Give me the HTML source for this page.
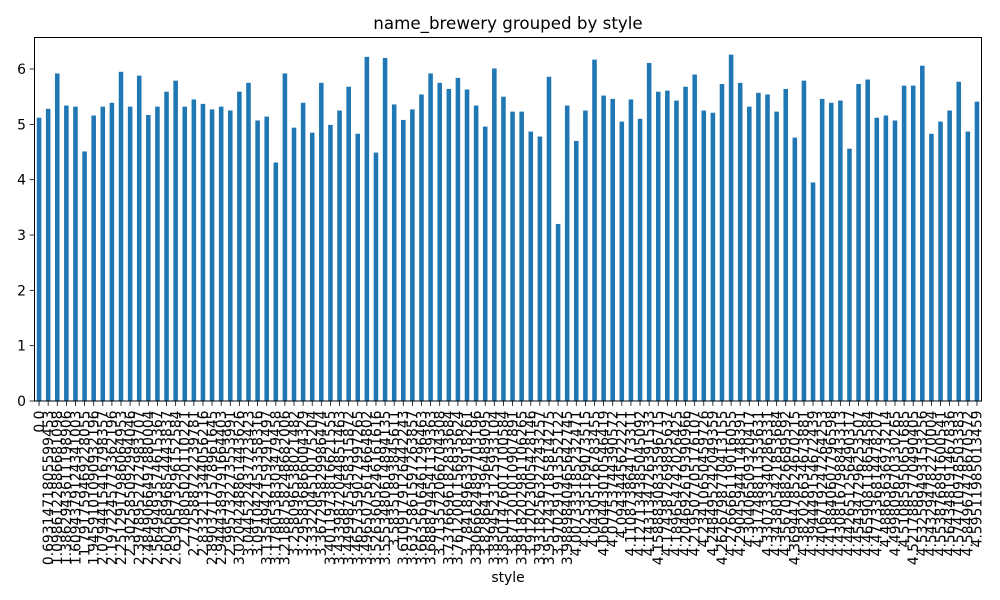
<!DOCTYPE html>
<html><head><meta charset="utf-8"><style>
html,body{margin:0;padding:0;background:#fff;}
svg{display:block;font-family:"DejaVu Sans","Liberation Sans",sans-serif;}
</style></head><body>
<svg id="chart" width="1000" height="600" viewBox="0 0 1000 600" xmlns="http://www.w3.org/2000/svg">
<rect x="0" y="0" width="1000" height="600" fill="#fff"/>
<text x="508" y="29" font-size="16.7" text-anchor="middle">name_brewery grouped by style</text>
<g id="bars"></g>
<g id="xticks"></g>
<g id="yticks"></g>
<rect x="34.5" y="37.5" width="947" height="363.5" fill="none" stroke="#000" stroke-width="1"/>
<text x="508" y="582" font-size="13.9" text-anchor="middle">style</text>
</svg>
<script>
const categories = ["0.0","0.6931471805599453","1.0986122886681098","1.3862943611198906","1.6094379124341003","1.791759469228055","1.9459101090932196","2.0794415416798357","2.1972245773362196","2.2512917986064953","2.302585092994046","2.3978952727983707","2.4849066497880004","2.5649493574615367","2.6026896854443837","2.6390573296152584","2.70805020110221","2.772588722239781","2.833213344056216","2.8903717578961645","2.9444389791664403","2.995732273553991","3.0204248861443626","3.044522437723423","3.091042453358316","3.1354942159291497","3.1780538303479458","3.2188758248682006","3.258096538021482","3.295836866004329","3.332204510175204","3.367295829986474","3.4011973816621555","3.4339872044851463","3.4499875458315872","3.4657359027997265","3.4965075614664802","3.5263605246161616","3.5553480614894135","3.58351893845611","3.6109179126442243","3.6375861597263857","3.6635616461296463","3.6888794541139363","3.713572066704308","3.7376696182833684","3.7612001156935624","3.784189633918261","3.8066624897703196","3.828641396489095","3.8394523125933104","3.8501476017100584","3.871201010907891","3.8918202981106265","3.912023005428146","3.9318256327243257","3.9512437185814275","3.970291913552122","3.9889840465642745","4.007333185232471","4.02535169073515","4.04305126783455","4.060443010546419","4.07753744390572","4.0943445622221","4.110873864173311","4.127134385045092","4.143134726391533","4.1588830833596715","4.174387269895637","4.189654742026425","4.204692619390966","4.219507705176107","4.23410650459726","4.248495242049359","4.2626798770413155","4.276666119016055","4.290459441148391","4.30406509320417","4.31748811353631","4.330733340286331","4.343805421853684","4.356708826689592","4.3694478524670215","4.382026634673881","4.394449154672439","4.406719247264253","4.418840607796598","4.430816798843313","4.442651256490317","4.454347296253507","4.465908118654584","4.477336814478207","4.48863636973214","4.499809670330265","4.51085950651685","4.5217885770490405","4.532599493153256","4.543294782270004","4.553876891600541","4.564348191467836","4.574710978503383","4.584967478670572","4.59511985013459"];
const values = [5.12,5.28,5.92,5.34,5.32,4.51,5.16,5.32,5.39,5.95,5.32,5.88,5.17,5.32,5.59,5.79,5.32,5.45,5.37,5.27,5.32,5.25,5.59,5.75,5.07,5.14,4.31,5.92,4.94,5.39,4.85,5.75,4.99,5.25,5.68,4.83,6.22,4.49,6.20,5.36,5.08,5.27,5.54,5.92,5.75,5.64,5.84,5.63,5.34,4.96,6.01,5.50,5.23,5.23,4.87,4.78,5.86,3.20,5.34,4.70,5.25,6.17,5.52,5.46,5.05,5.45,5.10,6.11,5.59,5.61,5.43,5.68,5.90,5.25,5.21,5.73,6.26,5.75,5.32,5.57,5.54,5.23,5.64,4.76,5.79,3.95,5.46,5.39,5.43,4.56,5.73,5.81,5.12,5.16,5.07,5.70,5.70,6.06,4.83,5.05,5.25,5.77,4.87,5.41];
const yTicks = [0,1,2,3,4,5,6];

const NS = "http://www.w3.org/2000/svg";
const L = 34.5, R = 981.5, T = 37.5, B = 401;
const n = categories.length;
const step = (R - L) / n;
const xs = i => L + (i + 0.5) * step;
const ys = v => B - v * 55.33;

const gb = document.getElementById('bars');
values.forEach((v, i) => {
  const r = document.createElementNS(NS, 'rect');
  
  
  r.setAttribute('x', xs(i) - step * 0.25);
  r.setAttribute('width', step * 0.5);
  r.setAttribute('y', ys(v));
  r.setAttribute('height', B - ys(v));
  r.setAttribute('fill', '#1f77b4');
  gb.appendChild(r);
});

const gx = document.getElementById('xticks');
categories.forEach((c, i) => {
  const x = xs(i);
  const t = document.createElementNS(NS, 'line');
  
  
  t.setAttribute('x1', x); t.setAttribute('x2', x);
  t.setAttribute('y1', B); t.setAttribute('y2', B + 4.9);
  t.setAttribute('stroke', '#000'); t.setAttribute('stroke-width', '0.8');
  gx.appendChild(t);
  const tx = document.createElementNS(NS, 'text');
  
  
  tx.setAttribute('transform', 'translate(' + (x + 4.8) + ',' + (B + 9.5) + ') rotate(-90)');
  tx.setAttribute('text-anchor', 'end');
  tx.setAttribute('font-size', '13.9');
  tx.textContent = c;
  gx.appendChild(tx);
});

const gy = document.getElementById('yticks');
yTicks.forEach(v => {
  const y = ys(v);
  const t = document.createElementNS(NS, 'line');
  
  
  t.setAttribute('x1', L - 4.9); t.setAttribute('x2', L);
  t.setAttribute('y1', y); t.setAttribute('y2', y);
  t.setAttribute('stroke', '#000'); t.setAttribute('stroke-width', '0.8');
  gy.appendChild(t);
  const tx = document.createElementNS(NS, 'text');
  
  
  tx.setAttribute('x', L - 8.5);
  tx.setAttribute('y', y + 5);
  tx.setAttribute('text-anchor', 'end');
  tx.setAttribute('font-size', '13.9');
  tx.textContent = v;
  gy.appendChild(tx);
});
</script>
</body></html>
